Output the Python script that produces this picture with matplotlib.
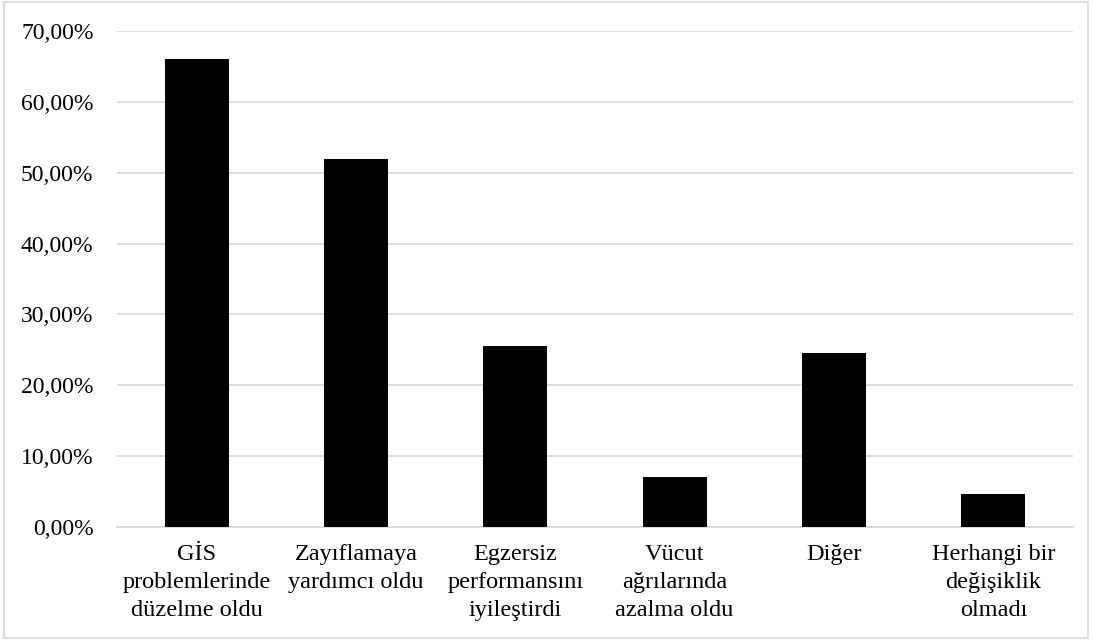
import matplotlib
matplotlib.use("Agg")
import matplotlib.pyplot as plt
from matplotlib.patches import Rectangle
from matplotlib.ticker import FuncFormatter

# category labels (line breaks as in the original)
categories = ["GİS\nproblemlerinde\ndüzelme oldu",
              "Zayıflamaya\nyardımcı oldu",
              "Egzersiz\nperformansını\niyileştirdi",
              "Vücut\nağrılarında\nazalma oldu",
              "Diğer",
              "Herhangi bir\ndeğişiklik\nolmadı"]
# percentages
values = [66.0, 52.0, 25.6, 7.0, 24.6, 4.7]
yticks = [0, 10, 20, 30, 40, 50, 60, 70]

plt.rcParams['font.family'] = ['Liberation Serif', 'DejaVu Serif']

fig = plt.figure(figsize=(10.93, 6.41), dpi=100)
ax = fig.add_axes([117 / 1093, 1 - 527 / 641, 956 / 1093, 496 / 641])

x = range(len(categories))
ax.bar(x, values, width=0.4, color="black", zorder=3)

ax.set_xlim(-0.5, len(categories) - 0.5)
ax.set_ylim(0, 70)
ax.set_yticks(yticks)
ax.yaxis.set_major_formatter(FuncFormatter(lambda v, p: "{:.2f}%".format(v).replace(".", ",")))
ax.set_xticks(list(x))
ax.set_xticklabels(categories, fontsize=17.5, linespacing=1.45)
ax.tick_params(axis="y", labelsize=17, length=0, pad=17)
ax.tick_params(axis="x", length=0, pad=12)

ax.grid(axis="y", color="#d9d9d9", linewidth=1.3, zorder=0)
for side in ["top", "right", "left"]:
    ax.spines[side].set_visible(False)
ax.spines["bottom"].set_color("#d9d9d9")
ax.spines["bottom"].set_linewidth(1.3)

# chart border
fig.patches.append(Rectangle((4 / 1093, 3 / 641), 1084 / 1093, 636 / 641,
                             transform=fig.transFigure, fill=False,
                             edgecolor="#d9d9d9", linewidth=1.3))

fig.savefig("out.png", dpi=100)
